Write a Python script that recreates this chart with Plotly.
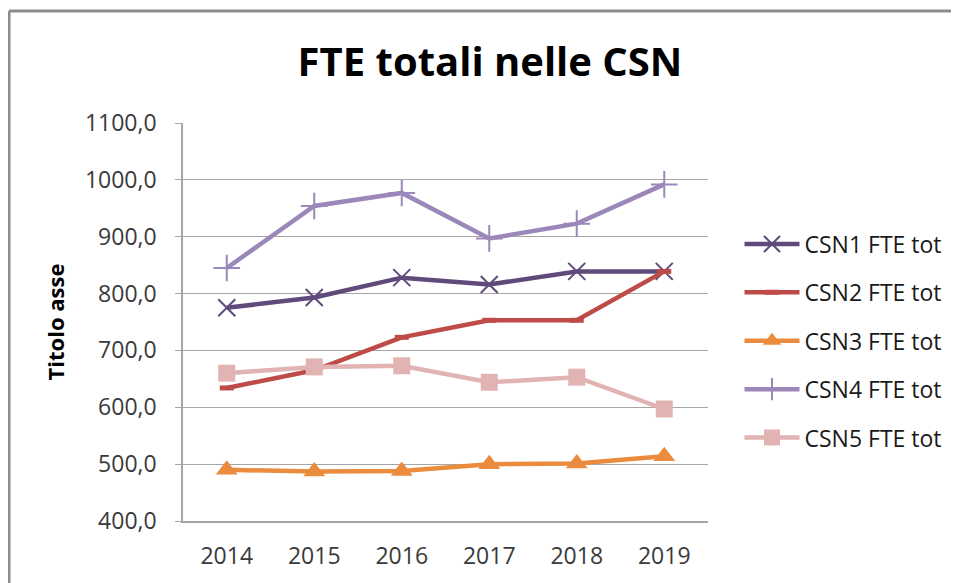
import plotly.graph_objects as go

years = ['2014', '2015', '2016', '2017', '2018', '2019']
csn1 = [775, 793, 828, 816, 839, 839]
csn2 = [634, 665, 723, 753, 753, 839]
csn3 = [490, 487, 488, 500, 501, 514]
csn4 = [845, 954, 977, 897, 923, 992]
csn5 = [660, 671, 673, 644, 653, 597]
names = ['CSN1 FTE tot', 'CSN2 FTE tot', 'CSN3 FTE tot', 'CSN4 FTE tot', 'CSN5 FTE tot']
yticks = [400, 500, 600, 700, 800, 900, 1000, 1100]

font = 'Open Sans'
styles = [
    dict(color='#604A7B', symbol='x-thin', size=17, lw=2),
    dict(color='#BE4B48', symbol='line-ew', size=10, lw=5),
    dict(color='#EA8B3E', symbol='triangle-up', size=19, lw=0),
    dict(color='#9B87B9', symbol='cross-thin', size=19, lw=2),
    dict(color='#E1B3B2', symbol='square', size=17, lw=0),
]

fig = go.Figure()
for vals, nm, st in zip([csn1, csn2, csn3, csn4, csn5], names, styles):
    fig.add_trace(go.Scatter(
        x=years, y=vals, name=nm, mode='lines+markers', legendgroup=nm,
        line=dict(color=st['color'], width=4.5),
        marker=dict(symbol=st['symbol'], size=st['size'], color=st['color'],
                    line=dict(color=st['color'], width=st['lw'])),
    ))

# page body adds an 8px offset, so the figure is laid out 8px up/left
W, H = 959, 583
ml, mt, pw, ph = 175, 115, 525, 398

# outer chart frame (left and top edges visible)
xl = (1 - ml) / pw
yt = (ph + mt - 3) / ph
fig.add_shape(type='line', xref='paper', yref='paper', x0=xl, x1=xl, y0=-0.3, y1=yt,
              line=dict(color='#8C8C8C', width=3))
fig.add_shape(type='line', xref='paper', yref='paper', x0=xl, x1=1.6, y0=yt, y1=yt,
              line=dict(color='#8C8C8C', width=3))

fig.update_layout(
    width=W, height=H,
    margin=dict(l=ml, r=W - ml - pw, t=mt, b=H - mt - ph),
    paper_bgcolor='white', plot_bgcolor='white',
    separators=',.',
    font=dict(family=font, size=23, color='#3a3a3a'),
    title=dict(text='<b>FTE totali nelle CSN</b>', x=(482 - ml) / pw, xref='paper',
               xanchor='center', y=1 - 54 / H, yanchor='middle',
               font=dict(family=font, size=40, color='black')),
    legend=dict(x=1.06, xanchor='left', y=0.75, yanchor='top',
                traceorder='grouped', tracegroupgap=15.5, itemwidth=55,
                font=dict(family=font, size=23, color='#1a1a1a')),
)
fig.update_xaxes(type='category', range=[-0.5, 5.5], showgrid=False,
                 showline=True, linecolor='#A6A6A6', linewidth=1.5,
                 ticks='', ticklabelstandoff=14, tickfont=dict(size=23, color='#3a3a3a'))
fig.update_yaxes(range=[400, 1100], tickvals=yticks, tickformat='.1f',
                 showgrid=True, gridcolor='#A6A6A6', gridwidth=1,
                 showline=True, linecolor='#A6A6A6', linewidth=1.5,
                 ticks='outside', ticklen=6, tickcolor='#A6A6A6',
                 ticklabelstandoff=14, zeroline=False,
                 title=dict(text='<b>Titolo asse</b>', standoff=14,
                            font=dict(family=font, size=22, color='black')))

fig.write_html('out.html')
